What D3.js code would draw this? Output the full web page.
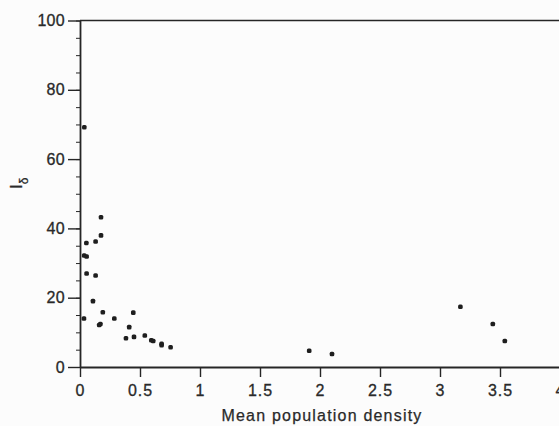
<!DOCTYPE html>
<html>
<head>
<meta charset="utf-8">
<script src="https://cdn.jsdelivr.net/npm/d3@7"></script>
<style>
  html, body { margin: 0; padding: 0; background: #fcfcfc; }
  svg { display: block; }
  text { font-family: "Liberation Sans", Arial, Helvetica, sans-serif; fill: #2a2a2a; }
</style>
</head>
<body>
<script>
// Data
const density = [0.036, 0.175, 0.175, 0.053, 0.13, 0.035, 0.055, 0.055, 0.13, 0.108,
                 0.19, 0.033, 0.16, 0.17, 0.286, 0.444, 0.41, 0.383, 0.45, 0.54,
                 0.594, 0.61, 0.68, 0.68, 0.755, 1.91, 2.10, 3.17, 3.44, 3.54];
const iDelta  = [69.2, 43.2, 38.0, 35.8, 36.2, 32.2, 31.9, 27.0, 26.4, 19.0,
                 15.8, 14.0, 12.1, 12.4, 14.0, 15.7, 11.5, 8.3, 8.7, 9.1,
                 7.7, 7.5, 6.3, 6.7, 5.7, 4.7, 3.75, 17.4, 12.4, 7.5];
const xTicks = [0, 0.5, 1, 1.5, 2, 2.5, 3, 3.5, 4];
const yTicks = [0, 20, 40, 60, 80, 100];
const yMinorTicks = d3.range(0, 101, 5);
const xLabel = "Mean population density";

const W = 559, H = 426;
const svg = d3.select("body").append("svg").attr("width", W).attr("height", H);
svg.append("rect").attr("width", W).attr("height", H).attr("fill", "#fcfcfc");

const x = d3.scaleLinear().domain([0, 4]).range([80, 560]);
const y = d3.scaleLinear().domain([0, 100]).range([367, 20.5]);

const ink = "#262626";

// frame (top + right)
svg.append("line").attr("x1", x(0)).attr("x2", x(4)).attr("y1", y(100)).attr("y2", y(100))
  .attr("stroke", ink).attr("stroke-width", 1.6);
svg.append("line").attr("x1", x(4)).attr("x2", x(4)).attr("y1", y(100)).attr("y2", y(0))
  .attr("stroke", ink).attr("stroke-width", 1.6);

// y minor ticks
const yMinor = svg.append("g").attr("transform", `translate(${x(0)},0)`)
  .call(d3.axisLeft(y).tickValues(yMinorTicks).tickSize(4).tickFormat(""));
yMinor.select(".domain").remove();
yMinor.selectAll("line").attr("stroke", ink).attr("stroke-width", 1);

// y axis
const yAxis = svg.append("g").attr("transform", `translate(${x(0)},0)`)
  .call(d3.axisLeft(y).tickValues(yTicks).tickSize(12).tickPadding(3).tickSizeOuter(0));
yAxis.select(".domain").attr("stroke", ink).attr("stroke-width", 1.8);
yAxis.selectAll(".tick line").attr("stroke", ink).attr("stroke-width", 1.4);
yAxis.selectAll(".tick text").attr("font-size", 16).attr("fill", ink)
  .attr("stroke", ink).attr("stroke-width", 0.3)
  .style("font-family", '"Liberation Sans", Arial, sans-serif').attr("letter-spacing", 0.3);

// x axis
const xAxis = svg.append("g").attr("transform", `translate(0,${y(0)})`)
  .call(d3.axisBottom(x).tickValues(xTicks).tickSize(10).tickPadding(8).tickSizeOuter(0)
        .tickFormat(d3.format("")));
xAxis.select(".domain").attr("stroke", ink).attr("stroke-width", 1.8);
xAxis.selectAll(".tick line").attr("stroke", ink).attr("stroke-width", 1.4);
xAxis.selectAll(".tick text").attr("font-size", 16).attr("fill", ink)
  .attr("stroke", ink).attr("stroke-width", 0.3)
  .style("font-family", '"Liberation Sans", Arial, sans-serif').attr("letter-spacing", 1);

// x label
svg.append("text").attr("x", 322).attr("y", 421).attr("text-anchor", "middle")
  .attr("font-size", 16).attr("letter-spacing", 1.2)
  .attr("fill", ink).attr("stroke", ink).attr("stroke-width", 0.25).text(xLabel);

// y label I_delta
const yl = svg.append("text").attr("transform", "translate(22,189) rotate(-90)")
  .attr("font-size", 17).attr("fill", ink).attr("stroke", ink).attr("stroke-width", 0.3);
yl.append("tspan").text("I");
yl.append("tspan").attr("font-size", 12).attr("dy", 6).text("δ");

// points
const pts = density.map((d, i) => ({ x: d, y: iDelta[i] }));
svg.append("g").selectAll("rect").data(pts).join("rect")
  .attr("x", d => x(d.x) - 2.3).attr("y", d => y(d.y) - 2.3)
  .attr("width", 4.6).attr("height", 4.6).attr("rx", 1.5)
  .attr("fill", "#1e1e1e");
</script>
</body>
</html>
